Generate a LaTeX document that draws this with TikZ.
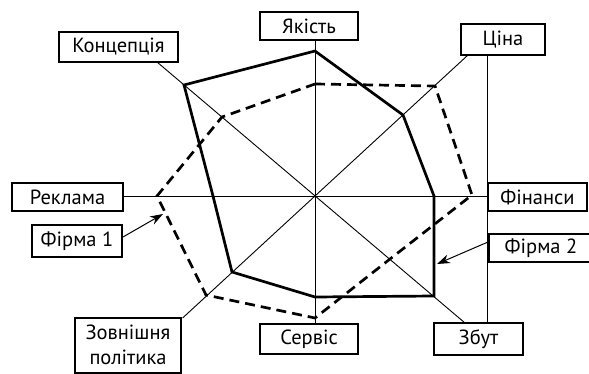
\documentclass[tikz,border=0pt]{standalone}
\usepackage{fontspec}
\setmainfont{PT Sans}
\usetikzlibrary{arrows.meta}
\begin{document}
\begin{tikzpicture}[x=1pt,y=-1pt,
  lbl/.style={draw, line width=2pt, fill=white, inner sep=0pt,
    font=\fontsize{20.5}{24.5}\selectfont, align=center},
  axis/.style={line width=0.9pt},
  firmtwo/.style={line width=2.7pt, line join=miter},
  firmone/.style={line width=2.7pt, dash pattern=on 10pt off 6pt, line join=miter},
  pointer/.style={line width=1pt, -{Stealth[length=13pt,width=9pt]}}]
\useasboundingbox (0,0) rectangle (589,374);
\coordinate (c) at (315,196);
% label boxes
\node[lbl, minimum width=98pt, minimum height=28pt] (yak) at (309,26) {Якість};
\node[lbl, minimum width=119pt, minimum height=30pt] (konc) at (118.5,47) {Концепція};
\node[lbl, minimum width=84pt, minimum height=31pt] (cina) at (503,39.5) {Ціна};
\node[lbl, minimum width=111pt, minimum height=28pt] (rek) at (67.5,197) {Реклама};
\node[lbl, minimum width=99pt, minimum height=28pt] (fin) at (537.5,197.5) {Фінанси};
\node[lbl, minimum width=90pt, minimum height=31pt] (fone) at (77,241) {Фірма 1};
\node[lbl, minimum width=104pt, minimum height=28pt] (ftwo) at (541,248) {Фірма 2};
\node[lbl, minimum width=106pt, minimum height=55pt] (zovn) at (128,345) {Зовнішня\\політика};
\node[lbl, minimum width=98pt, minimum height=30pt] (serv) at (309,339) {Сервіс};
\node[lbl, minimum width=89pt, minimum height=32pt] (zbut) at (478.5,339) {Збут};
% axis end points
\coordinate (konca) at (157,62);
\coordinate (zbuta) at (465,323);
\coordinate (cinaa) at (468,55);
\coordinate (zovna) at (182.6,318);
% axes
\draw[axis] (c |- yak.south) -- (c |- serv.north);
\draw[axis] (rek.east |- c) -- (fin.west |- c);
\draw[axis] (konca) -- (zbuta);
\draw[axis] (cinaa) -- (zovna);
\draw[axis] (fin.west |- cina.south) -- (fin.west |- zbut.north);
% Firm 2 (solid)
\draw[firmtwo] (315,51) -- (403,115) -- (434,196) -- (434,296) -- (315,297)
  -- (232,272) -- (213,196) -- (184,85) -- cycle;
% Firm 1 (dashed)
\draw[firmone] (315,84) -- (435,86) -- (472,195) -- (390,259) -- (315,318)
  -- (206,295) -- (157,196) -- (222,117) -- cycle;
% pointers
\coordinate (tone) at (163,214);
\coordinate (ttwo) at (437,264);
\draw[pointer] ([yshift=4pt]fone.east) -- (tone);
\draw[pointer] ([yshift=6pt]ftwo.west) -- (ttwo);
\end{tikzpicture}
\end{document}
